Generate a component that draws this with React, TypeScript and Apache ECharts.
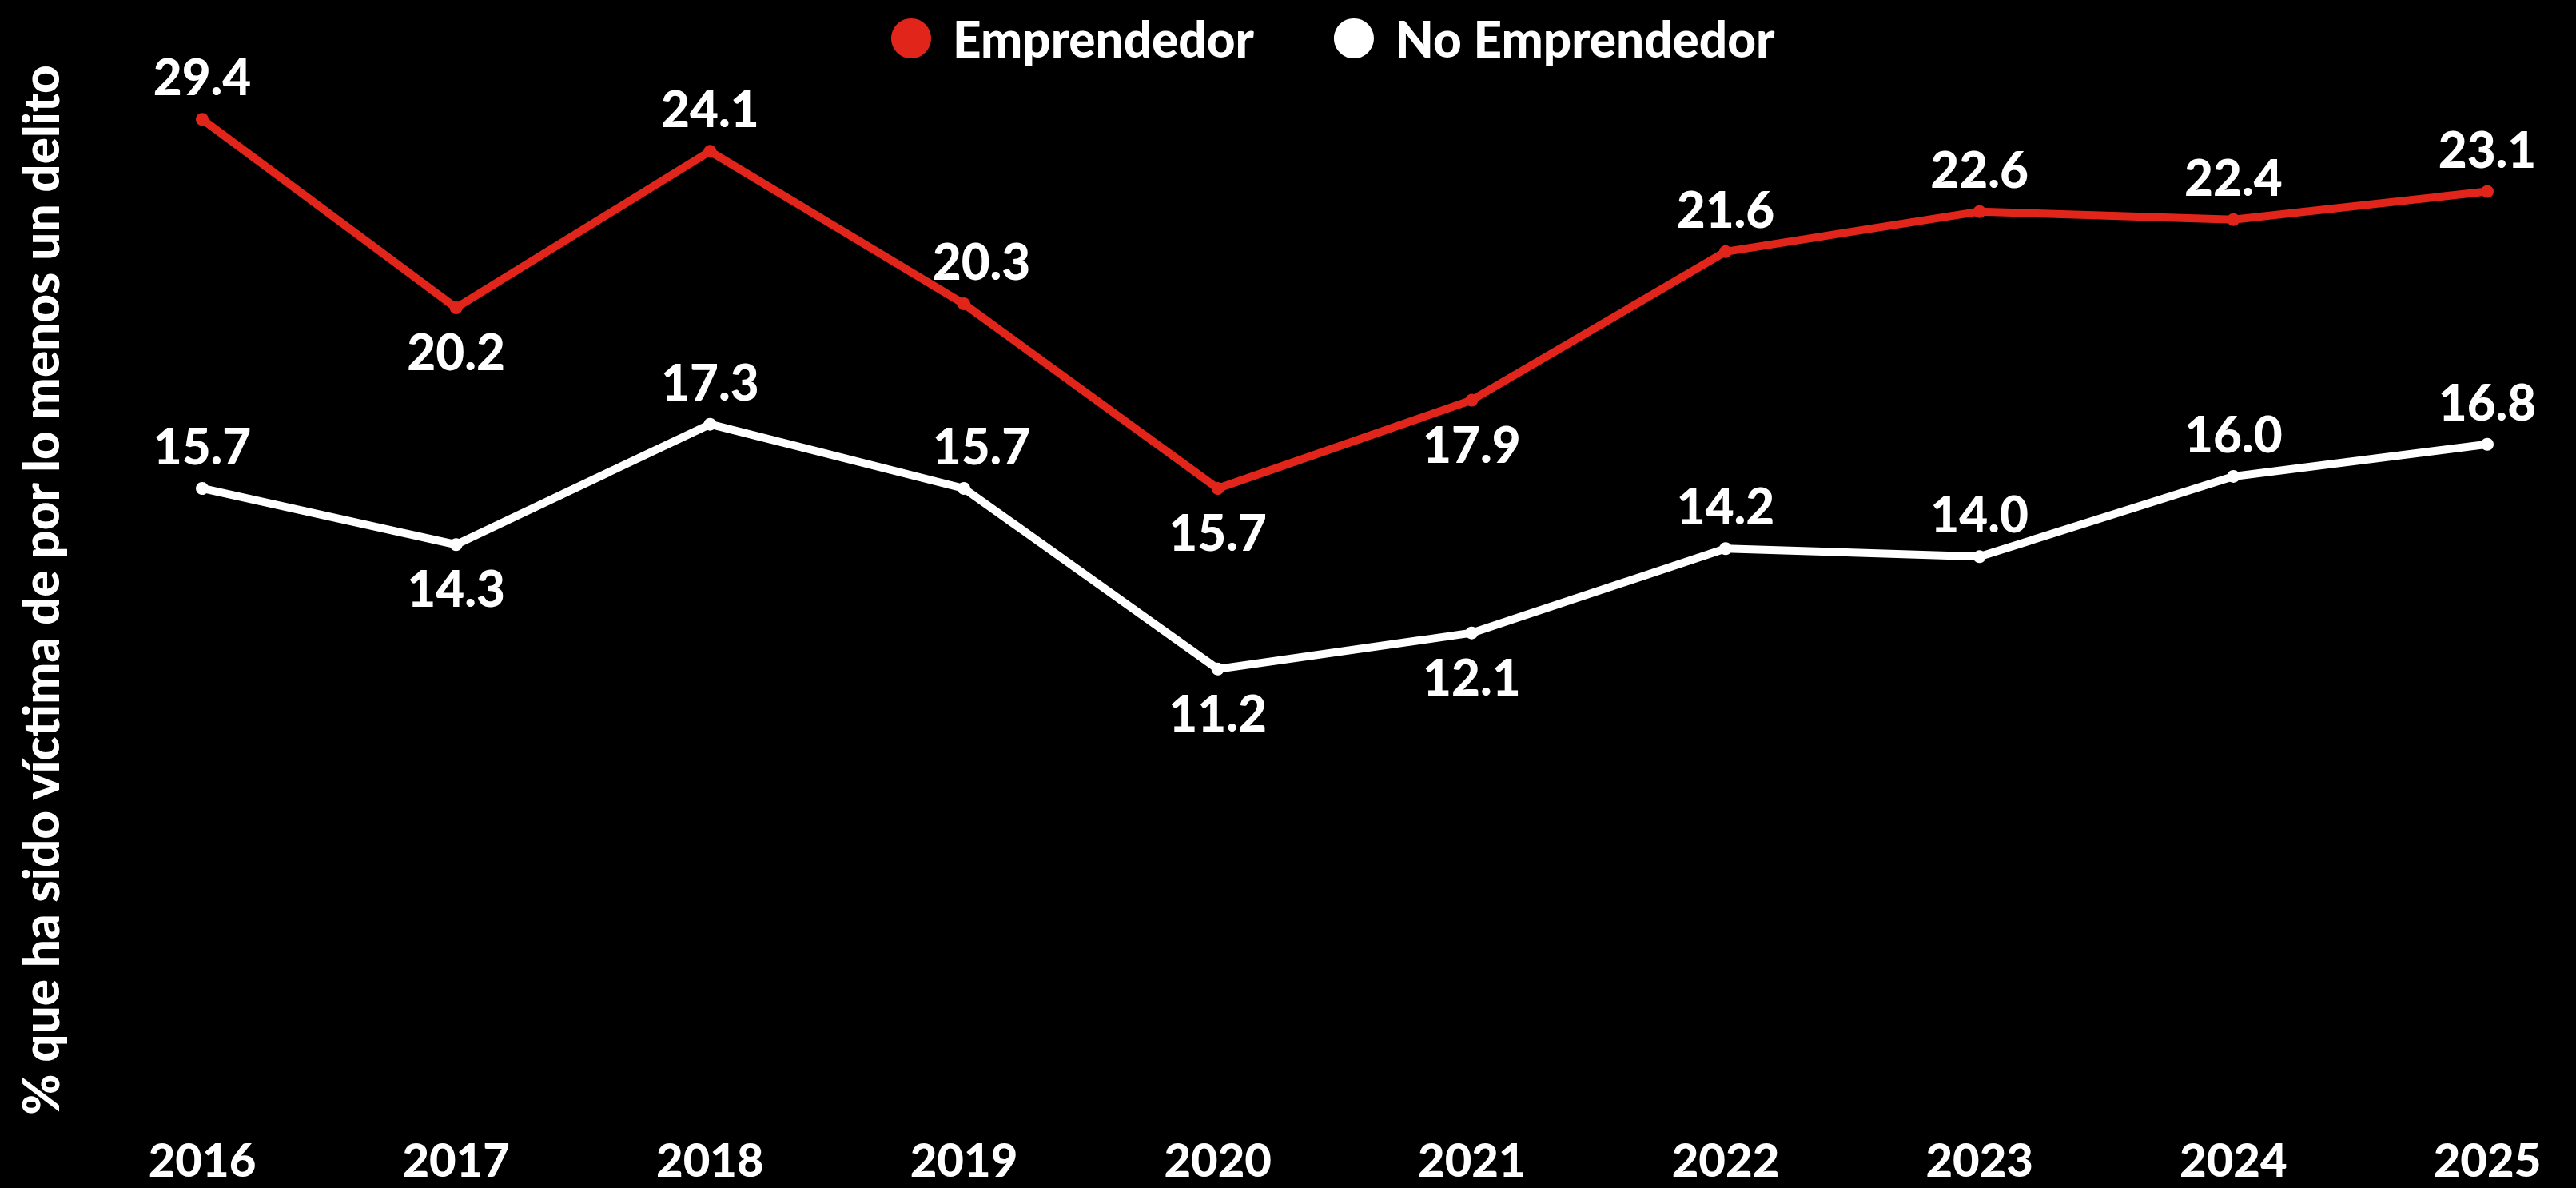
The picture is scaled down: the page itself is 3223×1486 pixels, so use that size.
import React, { useEffect, useRef } from "react";
import * as echarts from "echarts";

const years = ["2016", "2017", "2018", "2019", "2020", "2021", "2022", "2023", "2024", "2025"];
// Values as labelled in the reference
const emprendedor = [29.4, 20.2, 24.1, 20.3, 15.7, 17.9, 21.6, 22.6, 22.4, 23.1];
const noEmprendedor = [15.7, 14.3, 17.3, 15.7, 11.2, 12.1, 14.2, 14.0, 16.0, 16.8];
// The reference draws the 2016 "Emprendedor" point at about 24.9 although it is labelled 29.4
const emprendedorDrawn = [24.9, 20.2, 24.1, 20.3, 15.7, 17.9, 21.6, 22.6, 22.4, 23.1];
const emprendedorLabelPos = ["top", "bottom", "top", "top", "bottom", "bottom", "top", "top", "top", "top"];
const noEmprendedorLabelPos = ["top", "bottom", "top", "top", "bottom", "bottom", "top", "top", "top", "top"];
const seriesNames = ["Emprendedor", "No Emprendedor"];
const yTitle = "% que ha sido víctima de por lo menos un delito";

const RED = "#e1251b";
const WHITE = "#ffffff";
const FONT = "Lato, 'Noto Sans', sans-serif";
const WEIGHT = 900;

export default function App() {
  const ref = useRef<HTMLDivElement>(null);
  useEffect(() => {
    if (!ref.current) return;
    const chart = echarts.init(ref.current, null, { renderer: "svg" });
    const labelBase = {
      show: true,
      color: WHITE,
      fontFamily: FONT,
      fontWeight: WEIGHT,
      fontSize: 62,
      lineHeight: 60,
      distance: 16,
    };
    const mk = (drawn: number[], shown: number[], pos: string[]) =>
      drawn.map((v, i) => ({
        value: v,
        label: {
          position: pos[i],
          formatter: shown[i].toFixed(1),
          offset: i === 3 ? [22, 0] : [0, 0],
        },
      }));
    chart.setOption({
      animation: false,
      backgroundColor: "#000000",
      grid: { left: 253, right: 111, top: 94, bottom: 87, containLabel: false },
      legend: {
        left: 1110,
        top: 12,
        icon: "circle",
        itemWidth: 50,
        itemHeight: 50,
        itemGap: 100,
        textStyle: {
          color: WHITE,
          fontFamily: FONT,
          fontWeight: WEIGHT,
          fontSize: 62,
          padding: [0, 0, 0, 22],
        },
        data: seriesNames,
      },
      xAxis: {
        type: "category",
        data: years,
        boundaryGap: false,
        axisLine: { show: false },
        axisTick: { show: false },
        splitLine: { show: false },
        axisLabel: {
          color: WHITE,
          fontFamily: FONT,
          fontWeight: WEIGHT,
          fontSize: 58,
          lineHeight: 48,
          margin: 26,
        },
      },
      yAxis: {
        type: "value",
        min: 0,
        max: 26,
        show: false,
        splitLine: { show: false },
      },
      graphic: [
        {
          type: "text",
          x: 50,
          y: 738,
          rotation: Math.PI / 2,
          style: {
            text: yTitle,
            fill: WHITE,
            fontFamily: FONT,
            fontWeight: WEIGHT,
            fontSize: 62,
            textAlign: "center",
            textVerticalAlign: "middle",
          },
        },
      ],
      series: [
        {
          name: seriesNames[0],
          type: "line",
          data: mk(emprendedorDrawn, emprendedor, emprendedorLabelPos),
          symbol: "circle",
          symbolSize: 16,
          itemStyle: { color: RED },
          lineStyle: { color: RED, width: 10 },
          label: labelBase,
          z: 3,
        },
        {
          name: seriesNames[1],
          type: "line",
          data: mk(noEmprendedor, noEmprendedor, noEmprendedorLabelPos),
          symbol: "circle",
          symbolSize: 16,
          itemStyle: { color: WHITE },
          lineStyle: { color: WHITE, width: 10 },
          label: labelBase,
          z: 2,
        },
      ],
    });
    return () => chart.dispose();
  }, []);
  return (
    <div
      ref={ref}
      style={{ position: "fixed", left: 0, top: 0, width: 3223, height: 1486, background: "#000" }}
    />
  );
}
